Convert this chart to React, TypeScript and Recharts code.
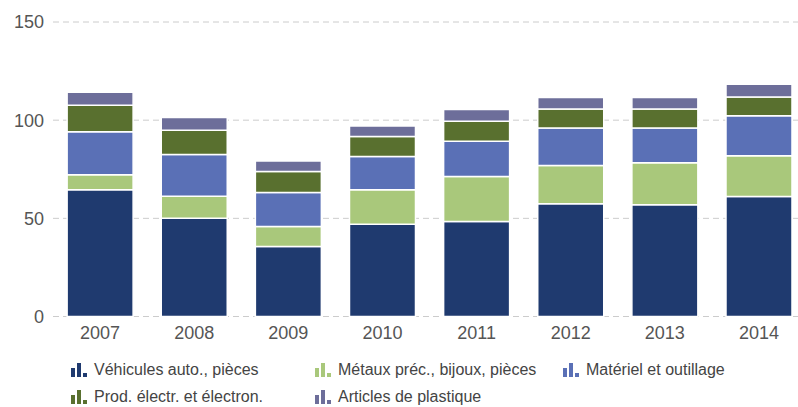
import React from "react";
import { BarChart, Bar, XAxis, YAxis, CartesianGrid } from "recharts";

const years = ["2007", "2008", "2009", "2010", "2011", "2012", "2013", "2014"];
const vehicules = [64.5, 50, 35.6, 47, 48.4, 57.4, 56.9, 61.1];
const metaux = [7.7, 11.2, 10.2, 17.5, 22.9, 19.5, 21.4, 20.8];
const materiel = [21.9, 21.3, 17.4, 17, 17.9, 19.1, 17.7, 20.4];
const prodElectr = [13.5, 12.4, 10.7, 10.2, 10.2, 9.7, 9.7, 9.5];
const plastique = [6.6, 6.5, 5.3, 5.3, 6.0, 5.8, 5.8, 6.5];
const yTicks = [0, 50, 100, 150];

const series = [
   { key: "vehicules", name: "Véhicules auto., pièces", color: "#1f3a6f", values: vehicules },
   { key: "metaux", name: "Métaux préc., bijoux, pièces", color: "#a9c87b", values: metaux },
   { key: "materiel", name: "Matériel et outillage", color: "#5a70b6", values: materiel },
   { key: "prod", name: "Prod. électr. et électron.", color: "#59702f", values: prodElectr },
   { key: "plastique", name: "Articles de plastique", color: "#6d6e9a", values: plastique },
];

const data = years.map((year, i) => {
   const row: Record<string, string | number> = { year };
   series.forEach((s) => {
      row[s.key] = s.values[i];
   });
   return row;
});

// legend order: two rows, three columns
const legendRows = [
   [series[0], series[1], series[2]],
   [series[3], series[4]],
];
const legendCols = [71, 315, 563];

const LegendIcon = ({ color }: { color: string }) => (
   <svg width={18} height={14} style={{ display: "block" }}>
      <rect x={0} y={5} width={4} height={9} fill={color} />
      <rect x={6} y={0} width={4} height={14} fill={color} />
      <rect x={12} y={10} width={4} height={4} fill={color} />
   </svg>
);

const App: React.FC = () => {
   return (
      <div
         style={{
            position: "absolute",
            left: 0,
            top: 0,
            width: 798,
            height: 407,
            overflow: "hidden",
            background: "#fff",
            fontFamily: "'Liberation Sans', Arial, sans-serif",
         }}
      >
         <BarChart
            width={806}
            height={407}
            data={data}
            margin={{ top: 22, right: 0, left: 0, bottom: 60.5 }}
            barCategoryGap="15%"
         >
            <CartesianGrid vertical={false} stroke="#cccccc" strokeDasharray="6 4" />
            <XAxis
               dataKey="year"
               axisLine={false}
               tickLine={false}
               tickMargin={4}
               height={30}
               tick={{ fontSize: 18, fill: "#555" }}
            />
            <YAxis
               width={53}
               domain={[0, 150]}
               ticks={yTicks}
               axisLine={false}
               tickLine={false}
               tickMargin={3}
               tick={{ fontSize: 18, fill: "#555" }}
            />
            {series.map((s) => (
               <Bar
                  key={s.key}
                  dataKey={s.key}
                  name={s.name}
                  stackId="a"
                  fill={s.color}
                  stroke="#fff"
                  strokeWidth={1.5}
                  isAnimationActive={false}
               />
            ))}
         </BarChart>
         {legendRows.map((row, r) =>
            row.map((s, c) => (
               <div
                  key={s.key}
                  style={{
                     position: "absolute",
                     left: legendCols[c],
                     top: 361 + r * 27,
                     height: 18,
                     display: "flex",
                     alignItems: "center",
                     fontSize: 16,
                     color: "#444",
                     whiteSpace: "nowrap",
                  }}
               >
                  <LegendIcon color={s.color} />
                  <span style={{ marginLeft: 5 }}>{s.name}</span>
               </div>
            ))
         )}
      </div>
   );
};

export default App;
